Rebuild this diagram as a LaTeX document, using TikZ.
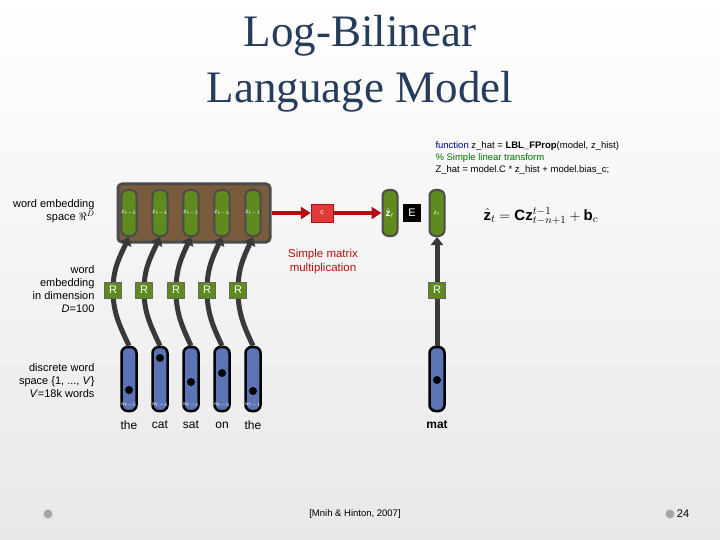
\documentclass[tikz,border=0pt]{standalone}
\usepackage{fontspec}
\setmainfont{Liberation Sans}
\newfontfamily\titlefont{Liberation Serif}
\usetikzlibrary{arrows.meta}
\definecolor{pillg}{HTML}{5E8A1E}
\definecolor{vecb}{HTML}{5B74B5}
\definecolor{boxbr}{HTML}{7A5C3C}
\definecolor{redc}{HTML}{E03A3A}
\definecolor{darkred}{HTML}{B01010}
\definecolor{titlec}{HTML}{263C5A}
\begin{document}
\begin{tikzpicture}[x=1pt,y=-1pt,
  pill/.style={draw=gray!60!black,line width=2pt,fill=pillg,rounded corners=6pt,minimum width=15pt,minimum height=46pt,inner sep=0pt,text=white,font=\fontsize{6}{6}\selectfont},
  vec/.style={draw=black,line width=2.5pt,fill=vecb,rounded corners=6pt,minimum width=15pt,minimum height=64pt,inner sep=0pt},
  rbox/.style={fill=pillg,draw=black!60,minimum width=17pt,minimum height=16pt,inner sep=0pt,text=white,font=\fontsize{11}{11}\selectfont},
  garr/.style={draw=gray!45!black,line width=5pt,-{Triangle[length=8pt,width=12pt]}},
  garrn/.style={draw=gray!45!black,line width=5pt},
  rarr/.style={draw=darkred,line width=4pt,-{Triangle[length=10pt,width=12pt]}},
  lab/.style={font=\fontsize{11}{13}\selectfont,align=right,anchor=east},
  word/.style={font=\fontsize{12}{12}\selectfont},
  dot/.style={circle,fill=black,inner sep=0pt,minimum size=8pt}]
\shade[top color=white,bottom color=gray!18] (0,0) rectangle (720,540);
\useasboundingbox (0,0) rectangle (720,540);
\node[text=titlec,font=\titlefont\fontsize{45}{56}\selectfont,align=center] (title) at (360,64) {Log-Bilinear\\Language Model};
\node[font=\fontsize{9.5}{12}\selectfont,align=left,anchor=north west] (code) at (432,138) {\textcolor{blue!60!black}{function} z\_hat = \textbf{LBL\_FProp}(model, z\_hist)\\\textcolor{green!45!black}{\% Simple linear transform}\\Z\_hat = model.C * z\_hist + model.bias\_c;};
\node[draw=gray!60!black,line width=3pt,fill=boxbr,rounded corners=4pt,minimum width=152pt,minimum height=58pt] (emb) at (194,213) {};
\foreach \i/\x/\l/\d/\rx/\w in {1/129/{t-5}/390/113/the,2/160/{t-4}/358/144/cat,3/191/{t-3}/382/176/sat,4/222/{t-2}/373/207/on,5/253/{t-1}/391/238/the}{
  \node[pill] (z\i) at (\x,213) {z$_{\l}$};
  \node[vec] (v\i) at (\x,379) {};
  \node[rbox] (r\i) at (\rx,290) {R};
  \draw[garrn] (v\i.north) to[out=115,in=-90] (r\i.center);
  \draw[garr] (r\i.center) to[out=90,in=-115] (z\i.south);
  \node[rbox] at (\rx,290) {R};
  \node[dot] (d\i) at (\x,\d) {};
  \node[font=\fontsize{5}{5}\selectfont,text=white] (w\i) at (\x,405) {w$_{\l}$};
  \node[word] (t\i) at (\x,425) {\w};
}
\node[fill=redc,draw=darkred,minimum width=22pt,minimum height=18pt,inner sep=0pt,text=white,font=\fontsize{7}{7}\selectfont] (c) at (322,213) {c};
\node[pill] (zh) at (390,213) {\fontsize{10}{10}\selectfont$\hat{\mathbf z}_t$};
\node[fill=black,minimum width=18pt,minimum height=18pt,inner sep=0pt,text=white,font=\fontsize{11}{11}\selectfont] (e) at (412,213) {E};
\node[pill] (zt) at (437,213) {z$_t$};
\node[vec] (vt) at (437,379) {};
\node[rbox] (rt) at (437,290) {R};
\draw[garrn] (vt.north) -- (rt.center);
\draw[garr] (rt.center) -- (zt.south);
\node[rbox] at (437,290) {R};
\node[dot] (dt) at (437,380) {};
\node[word,font=\bfseries\fontsize{12}{12}\selectfont] (tt) at (437,425) {mat};
\draw[rarr] (emb.east) -- (c.west);
\draw[rarr] (c.east) -- (zh.west);
\node[text=darkred,font=\fontsize{11.5}{14}\selectfont,align=center] (smm) at (323,262) {Simple matrix\\multiplication};
\node[font=\fontsize{15}{15}\selectfont,anchor=west] (eq) at (480,216) {$\hat{\mathbf z}_t=\mathbf C\mathbf z_{t-n+1}^{t-1}+\mathbf b_c$};
\node[lab] (l1) at (98,211) {word embedding\\space $\Re^D$};
\node[lab] (l2) at (98,289) {word\\embedding\\in dimension\\\textit{D}=100};
\node[lab] (l3) at (98,381) {discrete word\\space \{1, ..., \textit{V}\}\\\textit{V}=18k words};
\node[font=\fontsize{9.5}{9.5}\selectfont] (ref) at (355,514) {[Mnih \& Hinton, 2007]};
\node[font=\fontsize{11}{11}\selectfont] (pg) at (683,514) {24};
\node[circle,fill=gray!70,inner sep=0pt,minimum size=9pt] (b1) at (48,514) {};
\node[circle,fill=gray!70,inner sep=0pt,minimum size=9pt] (b2) at (670,514) {};
\end{tikzpicture}
\end{document}
